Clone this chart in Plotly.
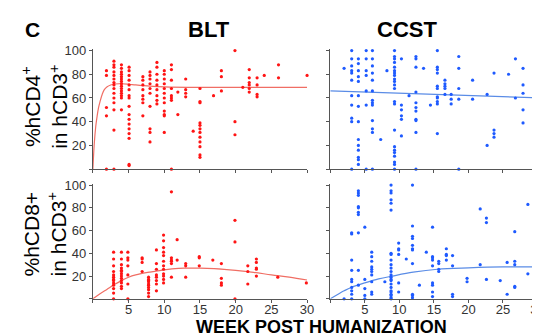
import plotly.graph_objects as go

# ---------------- data ----------------
# BLT, %hCD4+ in hCD3+ : week columns and values in each column
blt_cd4_weeks = [1.9, 2.95, 4.0, 5.07, 7.0, 8.0, 8.97, 10.0, 11.0, 11.9, 13.0, 14.05,
                 15.0, 16.9, 18.0, 19.9, 21.0, 21.9, 23.0, 24.0, 26.0, 30.0]
blt_cd4_values = [
    [83, 79, 52, 45, 0],
    [91, 88, 86, 82, 79, 76, 73, 71, 68, 64, 60, 56, 50, 33, 0],
    [88, 85, 82, 80, 78, 76, 74, 72, 70, 68, 66, 64, 62, 60, 50],
    [86, 83, 79, 75, 71, 67, 62, 60, 53, 46, 42, 38, 34, 30, 26, 4, 3],
    [78, 75, 71, 67, 62, 59, 56, 45],
    [82, 79, 76, 72, 68, 64, 53, 34, 31, 23],
    [90, 86, 80, 75, 71, 67, 62, 58, 55],
    [83, 80, 76, 72, 68, 64, 60, 56, 49, 46, 45, 31],
    [88, 84, 75, 68, 62, 60, 58, 0],
    [65, 46],
    [76, 67, 64, 61],
    [32],
    [68, 57, 56, 39, 37, 34, 31, 27, 23, 19, 12, 10],
    [62],
    [83, 78, 66],
    [100, 40, 29],
    [69],
    [84, 77, 73, 71, 68, 65],
    [77, 71, 63, 61],
    [79],
    [88, 77],
    [79],
]
blt_cd4_fit_weeks = [0, 0.2, 0.4, 0.6, 0.8, 1.0, 1.3, 1.6, 2.0, 2.5, 3.0, 4.0, 5.0, 6.0, 8.0, 10.0, 15.0, 20.0, 30.0]
blt_cd4_fit_values = [0, 22, 36, 45, 52, 57, 63, 67, 69.5, 71, 71.8, 72, 71.6, 71, 70, 69.4, 69, 69, 69]

# CCST, %hCD4+ in hCD3+
ccst_cd4_weeks = [2.0, 3.1, 4.07, 5.2, 6.1, 7.3, 8.2, 9.3, 10.3, 11.4, 12.4, 13.5, 14.5,
                  15.5, 16.6, 17.5, 18.6, 20.6, 22.7, 23.7, 25.8, 26.8, 27.9, 29.9]
ccst_cd4_values = [
    [85],
    [100, 93, 87, 83, 81, 75, 62, 54, 43, 40, 0],
    [93, 89, 83, 78, 74, 62, 53, 40, 25, 20, 16, 10, 8, 4],
    [100, 93, 83, 79, 66, 54, 0],
    [100, 93, 87, 81, 75, 66, 58, 56, 54, 41, 34, 31, 0],
    [25],
    [83],
    [100, 95, 93, 90, 86, 83, 81, 79, 76, 74, 71, 68, 57, 55, 33, 19, 16, 14, 11, 6, 4, 0],
    [93, 54, 50, 45, 42, 28],
    [62],
    [95, 93, 86, 65, 56, 52, 49, 42, 41, 31, 0],
    [85],
    [54],
    [100, 86, 84, 81, 70, 68, 61, 60, 57, 55, 30],
    [75, 72, 70, 68, 63],
    [63, 59, 55],
    [95, 85, 68, 59, 0],
    [75, 59],
    [63, 20],
    [81, 33, 30, 27],
    [80],
    [93, 60],
    [85, 71, 64, 50, 39],
    [74, 15],
]
ccst_cd4_fit_weeks = [0, 30.5]
ccst_cd4_fit_values = [66, 60]

# BLT, %hCD8+ in hCD3+
blt_cd8_weeks = [2.9, 4.0, 4.9, 6.9, 7.8, 8.9, 9.9, 11.0, 11.8, 13.0, 14.9, 16.8,
                 18.0, 19.9, 21.7, 22.9, 25.9, 29.9]
blt_cd8_values = [
    [41, 35, 29, 24, 21, 19, 17, 16, 14, 12, 9, 5, 0],
    [41, 35, 30, 27, 25, 24, 22, 20, 18, 16, 14, 11, 9],
    [41, 36, 34, 29, 21, 13, 0],
    [36, 35, 32, 24],
    [19, 17, 16, 15, 13, 12, 10, 8, 5, 2],
    [43, 31, 26, 21, 19, 16, 13, 7],
    [56, 51, 45, 41, 38, 33, 29, 26, 22, 20, 17, 14],
    [94, 36, 34, 33, 31, 19],
    [52, 34],
    [31, 29, 19],
    [37, 36, 29],
    [34],
    [31, 18, 14, 12],
    [69, 50, 0],
    [29, 24, 13],
    [35, 32, 27, 26, 20],
    [19],
    [14],
]
blt_cd8_fit_weeks = [0, 1, 2, 3, 4, 5, 6, 8, 10, 12, 13, 15, 17, 20, 22.5, 25, 27.5, 30]
blt_cd8_fit_values = [0, 4.5, 8.5, 12.5, 16, 19, 21, 23.5, 25.5, 26.8, 27, 27, 26.5, 25, 23.3, 21, 19, 16.5]

# CCST, %hCD8+ in hCD3+
ccst_cd8_weeks = [2.0, 3.1, 4.07, 5.0, 6.0, 7.9, 8.8, 9.9, 11.0, 11.9, 12.9, 13.9, 14.8,
                  15.7, 16.8, 17.7, 19.8, 21.7, 22.6, 24.6, 25.6, 26.7, 28.6]
ccst_cd8_values = [
    [0],
    [58, 57, 34, 25, 17, 15, 10, 7, 4, 0],
    [95, 93, 91, 81, 80, 76, 74, 58, 25, 12],
    [63, 17, 9, 3, 0],
    [41, 37, 33, 28, 26, 24, 21, 15, 6, 4],
    [15],
    [100, 95, 93, 87, 84, 78, 40, 39, 34, 30, 27, 24, 21, 19, 17, 16, 13, 10, 7, 6, 4, 3, 1, 0],
    [49, 44, 43, 39, 14, 6],
    [35],
    [100, 64, 55, 53, 47, 44, 43, 31, 4, 3, 1],
    [12],
    [41],
    [63, 37, 36, 34, 29, 14, 12, 6, 2],
    [33, 31, 26, 24],
    [44, 39, 38, 34],
    [38, 29, 4, 2],
    [18, 15],
    [79, 30],
    [71, 67, 17],
    [16],
    [32, 4],
    [59, 33, 30, 11, 10],
    [83, 22],
]
ccst_cd8_fit_weeks = [0, 1, 2, 3, 5, 7, 9, 12, 15.5, 20, 25, 30]
ccst_cd8_fit_values = [0, 3.5, 7, 10, 14, 17.5, 20, 23.4, 26, 27.2, 28, 28]

x_ticks = [0, 5, 10, 15, 20, 25, 30]
y_ticks = [0, 20, 40, 60, 80, 100]

# ---------------- figure ----------------
RED = "rgb(255,20,20)"
RED_LINE = "rgb(240,110,100)"
BLUE = "rgb(30,90,255)"
BLUE_LINE = "rgb(90,140,230)"
FONT = "Liberation Sans, Arial, Helvetica, sans-serif"


def flatten(weeks, cols):
    xs, ys = [], []
    for w, col in zip(weeks, cols):
        for v in col:
            xs.append(w)
            ys.append(v)
    return xs, ys


fig = go.Figure()

panels = [
    (blt_cd4_weeks, blt_cd4_values, blt_cd4_fit_weeks, blt_cd4_fit_values, RED, RED_LINE, "x", "y"),
    (ccst_cd4_weeks, ccst_cd4_values, ccst_cd4_fit_weeks, ccst_cd4_fit_values, BLUE, BLUE_LINE, "x2", "y2"),
    (blt_cd8_weeks, blt_cd8_values, blt_cd8_fit_weeks, blt_cd8_fit_values, RED, RED_LINE, "x3", "y3"),
    (ccst_cd8_weeks, ccst_cd8_values, ccst_cd8_fit_weeks, ccst_cd8_fit_values, BLUE, BLUE_LINE, "x4", "y4"),
]
for wk, cols, fw, fv, mc, lc, xa, ya in panels:
    fig.add_trace(go.Scatter(x=fw, y=fv, mode="lines", line=dict(color=lc, width=1.2, shape="spline"),
                             xaxis=xa, yaxis=ya, showlegend=False, hoverinfo="skip", cliponaxis=False))
    xs, ys = flatten(wk, cols)
    fig.add_trace(go.Scatter(x=xs, y=ys, mode="markers", marker=dict(color=mc, size=3.2),
                             xaxis=xa, yaxis=ya, showlegend=False, cliponaxis=False))

W, H = 540, 335
left_dom = [86 / W, 303 / W]
right_dom = [326.5 / W, 1.0]
top_dom = [1 - 158 / H, 1 - 36 / H]
bot_dom = [1 - 290 / H, 1 - 173 / H]

axis_common = dict(showgrid=False, zeroline=False, showline=True, linecolor="#555", linewidth=1,
                   ticks="outside", ticklen=3, tickcolor="#555",
                   tickfont=dict(family=FONT, size=13, color="#333"))

x_labels_none = [""] * len(x_ticks)
x_labels = ["" if t == 0 else str(t) for t in x_ticks]
y_labels_none = [""] * len(y_ticks)
y_labels = ["" if t == 0 else str(t) for t in y_ticks]

fig.update_layout(
    width=W, height=H, margin=dict(l=0, r=0, t=0, b=0),
    paper_bgcolor="white", plot_bgcolor="white",
    xaxis=dict(domain=left_dom, range=[0, 30], anchor="y", tickvals=x_ticks, ticktext=x_labels_none, **axis_common),
    yaxis=dict(domain=top_dom, range=[0, 101], anchor="x", tickvals=y_ticks, ticktext=y_labels, **axis_common),
    xaxis2=dict(domain=right_dom, range=[0, 30.5], anchor="y2", tickvals=x_ticks, ticktext=x_labels_none, **axis_common),
    yaxis2=dict(domain=top_dom, range=[0, 101], anchor="x2", tickvals=y_ticks, ticktext=y_labels_none, **axis_common),
    xaxis3=dict(domain=left_dom, range=[0, 30], anchor="y3", tickvals=x_ticks, ticktext=x_labels,
                ticklabelstandoff=-4, **axis_common),
    yaxis3=dict(domain=bot_dom, range=[0, 101], anchor="x3", tickvals=y_ticks, ticktext=y_labels, **axis_common),
    xaxis4=dict(domain=right_dom, range=[0, 30.5], anchor="y4", tickvals=x_ticks, ticktext=x_labels,
                ticklabelstandoff=-4, **axis_common),
    yaxis4=dict(domain=bot_dom, range=[0, 101], anchor="x4", tickvals=y_ticks, ticktext=y_labels_none, **axis_common),
)

def px(xp, yp):
    return xp / W, 1 - yp / H

annots = [
    dict(text="<b>C</b>", pos=(25, 16), size=21, angle=0),
    dict(text="<b>BLT</b>", pos=(204, 16), size=22, angle=0),
    dict(text="<b>CCST</b>", pos=(404, 16), size=22, angle=0),
    dict(text="%hCD4<sup>+</sup><br>in hCD3<sup>+</sup>", pos=(37, 95), size=21, angle=-90),
    dict(text="%hCD8+<br>in hCD3<sup>+</sup>", pos=(37, 224), size=21, angle=-90),
    dict(text="<b>WEEK POST HUMANIZATION</b>", pos=(318, 319), size=18, angle=0),
]
for a in annots:
    x, y = px(*a["pos"])
    fig.add_annotation(x=x, y=y, xref="paper", yref="paper", text=a["text"], showarrow=False,
                       textangle=a["angle"], xanchor="center", yanchor="middle", borderpad=0,
                       font=dict(family=FONT, size=a["size"], color="black"))

fig.write_html("out.html")
